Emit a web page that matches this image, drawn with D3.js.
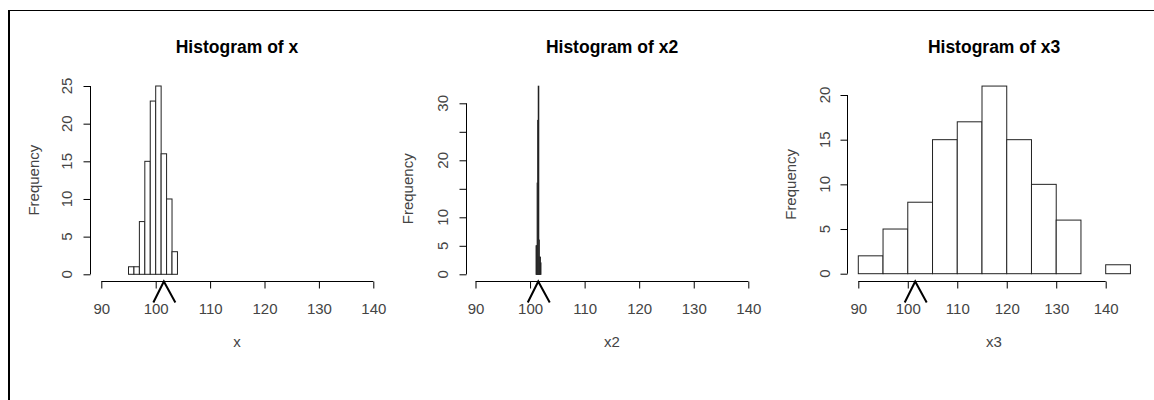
<!DOCTYPE html>
<html>
<head>
<meta charset="utf-8">
<script src="https://cdn.jsdelivr.net/npm/d3@7"></script>
<style>
  html, body { margin: 0; padding: 0; background: #fff; }
  svg { display: block; font-family: "Liberation Sans", Arial, sans-serif; }
</style>
</head>
<body>
<svg id="chart" width="1154" height="400"></svg>
<script>
// ---- data ----
const titles = ["Histogram of x", "Histogram of x2", "Histogram of x3"];
const xLabels = ["x", "x2", "x3"];
const yLabel = "Frequency";

const xBreaks = [95, 96, 97, 98, 99, 100, 101, 102, 103, 104];
const xCounts = [1, 1, 7, 15, 23, 25, 16, 10, 3];

const x2Breaks = [101.1, 101.2, 101.3, 101.4, 101.5, 101.6, 101.7, 101.8, 101.9, 102.0];
const x2Counts = [5, 5, 16, 27, 33, 6, 3, 3, 2];

const x3Breaks = [90, 95, 100, 105, 110, 115, 120, 125, 130, 135, 140, 145];
const x3Counts = [2, 5, 8, 15, 17, 21, 15, 10, 6, 0, 1];

const xTicks = [90, 100, 110, 120, 130, 140];
const yTicks1 = [0, 5, 10, 15, 20, 25];
const yTicks2 = [0, 5, 10, 15, 20, 25, 30];
const yTickLabels2 = [0, 5, 10, 20, 30];
const yTicks3 = [0, 5, 10, 15, 20];

const markerValue = 101.5;

// ---- layout ----
const FS = 15;
const panels = [
  { breaks: xBreaks, counts: xCounts, yTicks: yTicks1, yLabelsShown: yTicks1,
    xr: [101.3, 373.3], yDom: [0, 25], yr: [274.3, 86], axisX: 90.5, titleX: 237, ylabX: 39, yTickLabX: 72 },
  { breaks: x2Breaks, counts: x2Counts, yTicks: yTicks2, yLabelsShown: yTickLabels2,
    xr: [475.5, 748.3], yDom: [0, 30], yr: [274.3, 103.3], axisX: 466.5, titleX: 612, ylabX: 413, yTickLabX: 448 },
  { breaks: x3Breaks, counts: x3Counts, yTicks: yTicks3, yLabelsShown: yTicks3,
    xr: [858.3, 1105.7], yDom: [0, 20], yr: [273.7, 95], axisX: 847.5, titleX: 994, ylabX: 796, yTickLabX: 830 }
];

const svg = d3.select("#chart");

// outer frame lines
svg.append("line").attr("x1", 8).attr("x2", 1154).attr("y1", 10.5).attr("y2", 10.5)
  .attr("stroke", "#000").attr("stroke-width", 1);
svg.append("line").attr("x1", 9).attr("x2", 9).attr("y1", 10).attr("y2", 400)
  .attr("stroke", "#000").attr("stroke-width", 2);

panels.forEach((p, i) => {
  const x = d3.scaleLinear().domain([90, 140]).range(p.xr);
  const y = d3.scaleLinear().domain(p.yDom).range(p.yr);
  const g = svg.append("g");

  // bars
  const bins = p.counts.map((c, k) => ({ x0: p.breaks[k], x1: p.breaks[k + 1], c }));
  g.selectAll("rect.bar").data(bins).enter().append("rect")
    .attr("class", "bar")
    .attr("x", d => x(d.x0))
    .attr("width", d => Math.max(0, x(d.x1) - x(d.x0)))
    .attr("y", d => y(d.c))
    .attr("height", d => y(0) - y(d.c))
    .attr("fill", "#fff")
    .attr("stroke", "#222")
    .attr("stroke-width", 1);

  // x axis (below plot, R style)
  const xAxisY = 281.5;
  const xa = g.append("g").attr("transform", `translate(0,${xAxisY})`)
    .call(d3.axisBottom(x).tickValues(xTicks).tickSize(7).tickSizeOuter(0).tickFormat(d3.format("d")));
  xa.select(".domain").attr("d", `M${x(90)},0H${x(140)}`).attr("stroke", "#000");
  xa.selectAll(".tick line").attr("stroke", "#000");
  xa.selectAll(".tick text").attr("y", 0).attr("dy", 0)
    .attr("transform", "translate(0,32.5)")
    .attr("font-size", FS).attr("fill", "#444")
    .attr("font-family", "Liberation Sans, Arial, sans-serif");

  // y axis
  const ya = g.append("g").attr("transform", `translate(${p.axisX},0)`)
    .call(d3.axisLeft(y).tickValues(p.yTicks).tickSize(7).tickSizeOuter(0).tickFormat(""));
  ya.select(".domain").attr("d", `M0,${y(p.yTicks[0])}V${y(p.yTicks[p.yTicks.length - 1])}`).attr("stroke", "#000");
  ya.selectAll(".tick line").attr("stroke", "#000");

  g.selectAll("text.ytl").data(p.yLabelsShown).enter().append("text")
    .attr("class", "ytl")
    .attr("transform", d => `translate(${p.yTickLabX},${y(d)}) rotate(-90)`)
    .attr("text-anchor", "middle")
    .attr("font-size", FS).attr("fill", "#444")
    .text(d => d);

  // titles & labels
  g.append("text").attr("x", p.titleX).attr("y", 52.5)
    .attr("text-anchor", "middle").attr("font-size", 17.5).attr("font-weight", "bold")
    .attr("fill", "#000").text(titles[i]);
  g.append("text").attr("x", p.titleX).attr("y", 347)
    .attr("text-anchor", "middle").attr("font-size", FS).attr("fill", "#444")
    .text(xLabels[i]);
  g.append("text")
    .attr("transform", `translate(${p.ylabX},${(p.yr[0] + p.yr[1]) / 2}) rotate(-90)`)
    .attr("text-anchor", "middle").attr("font-size", FS).attr("fill", "#444")
    .text(yLabel);

  // marker "^" at markerValue
  const mx = x(markerValue);
  g.append("path")
    .attr("d", `M${mx - 10.5},302.5L${mx},281.5L${mx + 11.5},302.5`)
    .attr("fill", "none").attr("stroke", "#000").attr("stroke-width", 2);
});
</script>
</body>
</html>
